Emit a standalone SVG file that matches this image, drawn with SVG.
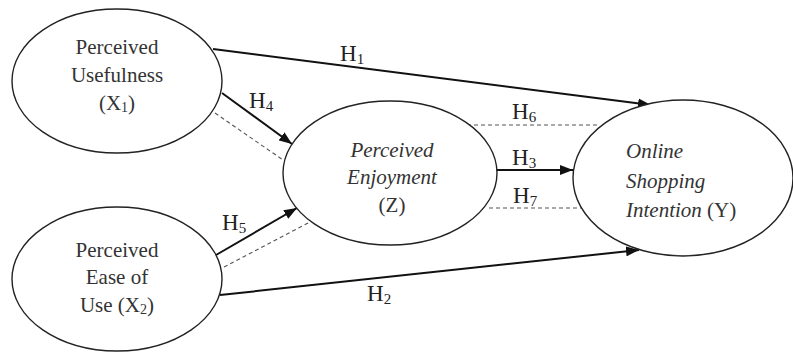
<svg xmlns="http://www.w3.org/2000/svg" width="793" height="352" viewBox="0 0 793 352">
<defs>
<marker id="arr" markerUnits="userSpaceOnUse" markerWidth="14" markerHeight="10" refX="13" refY="5" orient="auto">
<path d="M0,0 L13,5 L0,10 z" fill="#111"/>
</marker>
<style>
.node ellipse{fill:#fff;stroke:#222;stroke-width:1.4}
.t{font-family:"Liberation Serif","Times New Roman",serif;font-size:21px;fill:#333;text-anchor:middle}
.it{font-style:italic}
.h{font-family:"Liberation Serif","Times New Roman",serif;font-size:23px;fill:#222}
.sub{font-size:15px}
.solid{stroke:#111;stroke-width:2;fill:none}
.dash{stroke:#555;stroke-width:1.1;stroke-dasharray:4,3;fill:none}
</style>
</defs>
<rect width="793" height="352" fill="#fff"/>
<g id="connectors">
<line class="solid" x1="213" y1="49" x2="651" y2="105" marker-end="url(#arr)"/>
<line class="solid" x1="222" y1="93" x2="292" y2="144" marker-end="url(#arr)"/>
<line class="dash" x1="215" y1="113" x2="283" y2="160"/>
<line class="solid" x1="216" y1="255" x2="297" y2="208" marker-end="url(#arr)"/>
<line class="dash" x1="224" y1="267" x2="310" y2="222"/>
<line class="solid" x1="220" y1="295" x2="639" y2="250" marker-end="url(#arr)"/>
<line class="solid" x1="496" y1="170" x2="573" y2="170" marker-end="url(#arr)"/>
<line class="dash" x1="467" y1="125" x2="600" y2="125"/>
<line class="dash" x1="489" y1="208" x2="581" y2="208"/>
<text class="h" x="340" y="61">H<tspan class="sub" dy="3">1</tspan></text>
<text class="h" x="249" y="108">H<tspan class="sub" dy="3">4</tspan></text>
<text class="h" x="222" y="230">H<tspan class="sub" dy="3">5</tspan></text>
<text class="h" x="367" y="301">H<tspan class="sub" dy="3">2</tspan></text>
<text class="h" x="512" y="119">H<tspan class="sub" dy="3">6</tspan></text>
<text class="h" x="512" y="165">H<tspan class="sub" dy="3">3</tspan></text>
<text class="h" x="513" y="203">H<tspan class="sub" dy="3">7</tspan></text>
</g>
<g id="x1" class="node">
<ellipse cx="117" cy="81" rx="105" ry="72"/>
<text class="t" x="117" y="54">Perceived</text>
<text class="t" x="117" y="82">Usefulness</text>
<text class="t" x="117" y="110">(X<tspan font-size="14" dy="2">1</tspan><tspan dy="-2">)</tspan></text>
</g>
<g id="x2" class="node">
<ellipse cx="117" cy="279" rx="105" ry="72"/>
<text class="t" x="117" y="257">Perceived</text>
<text class="t" x="117" y="284">Ease of</text>
<text class="t" x="117" y="312">Use (X<tspan font-size="14" dy="2">2</tspan><tspan dy="-2">)</tspan></text>
</g>
<g id="z" class="node">
<ellipse cx="390" cy="173" rx="107" ry="72"/>
<text class="t it" x="392" y="157">Perceived</text>
<text class="t it" x="392" y="184">Enjoyment</text>
<text class="t" x="392" y="212">(Z)</text>
</g>
<g id="y" class="node">
<ellipse cx="683" cy="178" rx="110" ry="78"/>
<text class="t it" x="626" y="158" text-anchor="start" style="text-anchor:start">Online</text>
<text class="t it" x="626" y="188" style="text-anchor:start">Shopping</text>
<text class="t" x="626" y="217" style="text-anchor:start"><tspan font-style="italic">Intention</tspan> (Y)</text>
</g>
</svg>
